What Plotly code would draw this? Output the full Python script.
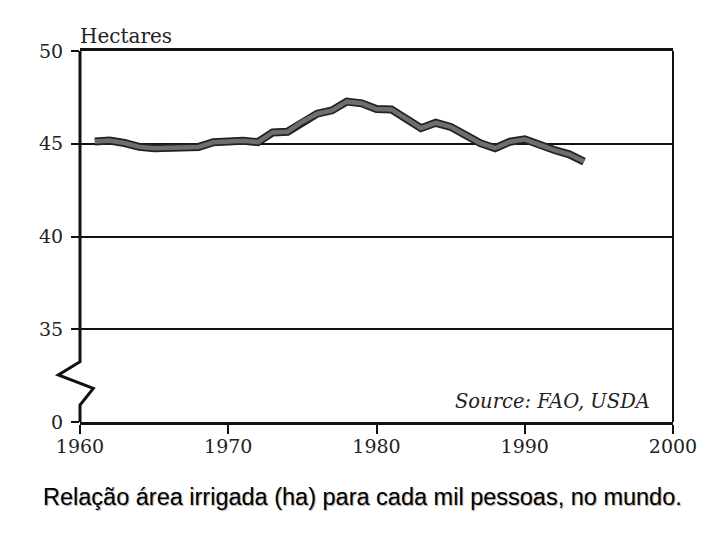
import plotly.graph_objects as go

# hectares of irrigated land per thousand people, world
years = list(range(1961, 1995))
hectares = [45.12, 45.17, 45.04, 44.83, 44.76, 44.77, 44.76, 44.83, 45.08, 45.14,
            45.16, 45.09, 45.61, 45.65, 46.19, 46.62, 46.80, 47.27, 47.18, 46.87,
            46.85, 46.35, 45.84, 46.13, 45.91, 45.47, 45.03, 44.76, 45.11, 45.24,
            44.93, 44.66, 44.43, 44.04]

x_ticks = [1960, 1970, 1980, 1990, 2000]
y_ticks = [30, 35, 40, 45, 50]
y_labels = ["0", "35", "40", "45", "50"]  # axis is broken between 0 and 35

serif = "DejaVu Serif"

fig = go.Figure()
# dark outline, then grey core, to mimic the thick printed line
fig.add_trace(go.Scatter(x=years, y=hectares, mode="lines",
                         line=dict(color="#222222", width=8), hoverinfo="skip"))
fig.add_trace(go.Scatter(x=years, y=hectares, mode="lines",
                         line=dict(color="#6e6e6e", width=4.5)))

fig.update_xaxes(range=[1960, 2000], tickvals=x_ticks, ticks="outside", ticklen=9,
                 tickwidth=2, tickcolor="#111", showline=True, linewidth=3,
                 linecolor="#111", mirror=True, showgrid=False, zeroline=False,
                 ticklabelstandoff=-4,
                 tickfont=dict(family=serif, size=19, color="#222"))
fig.update_yaxes(range=[30, 50], tickvals=y_ticks, ticktext=y_labels, ticks="outside",
                 ticklen=8, tickwidth=2, tickcolor="#111", showline=False,
                 showgrid=True, gridcolor="#111", gridwidth=1.5, zeroline=False,
                 ticklabelstandoff=4,
                 tickfont=dict(family=serif, size=19, color="#222"))

# left axis with the zigzag break, and the thin right border
fig.add_shape(type="path", xref="paper", yref="paper",
              path="M 0,1 L 0,0.1625 L -0.0366,0.1267 L 0.0224,0.0908 L 0,0.0458 L 0,0",
              line=dict(color="#111", width=3))
fig.add_shape(type="line", xref="paper", yref="paper", x0=1, x1=1, y0=0, y1=1,
              line=dict(color="#111", width=2))

fig.add_annotation(text="Hectares", xref="paper", yref="paper", x=-0.004, y=1.04,
                   xanchor="left", yanchor="middle", showarrow=False,
                   font=dict(family=serif, size=20, color="#222"))
fig.add_annotation(text="<i>Source: FAO, USDA</i>", xref="paper", yref="paper",
                   x=0.796, y=0.054, xanchor="center", yanchor="middle", showarrow=False,
                   font=dict(family=serif, size=19.5, color="#222"))
fig.add_annotation(text="Relação área irrigada (ha) para cada mil pessoas, no mundo.",
                   xref="paper", yref="paper", x=0.477, y=-0.202, xanchor="center",
                   yanchor="middle", showarrow=False,
                   font=dict(family="Liberation Sans", size=23.5, color="#000",
                             shadow="1px 1px 1px #aaa"))

# the page body adds an 8px offset, so margins are trimmed to land the plot area
fig.update_layout(width=720, height=540, showlegend=False,
                  paper_bgcolor="white", plot_bgcolor="white",
                  margin=dict(l=72, r=55, t=43, b=126))

fig.write_html("out.html")
